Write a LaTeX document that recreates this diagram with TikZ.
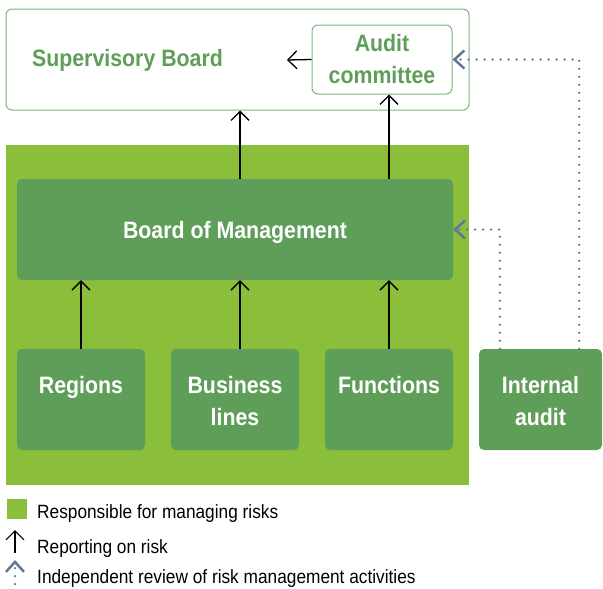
\documentclass[tikz,border=0pt]{standalone}
\usepackage{fontspec}
\setmainfont{Liberation Sans}[FakeStretch=0.9]
\usepackage{tikz}
\usetikzlibrary{arrows.meta}
\usetikzlibrary{positioning}
\definecolor{riskgreen}{HTML}{8BBE3B}
\definecolor{unitgreen}{HTML}{5F9E59}
\definecolor{framegreen}{HTML}{7DB47A}
\definecolor{reviewblue}{HTML}{5F7895}

\begin{document}
\begin{tikzpicture}[x=1pt,y=-1pt,
		bigfont/.style={font=\fontsize{23.7}{32}\selectfont\bfseries},
		keyfont/.style={font=\fontsize{19.2}{24}\selectfont},
		frame/.style={draw=framegreen, line width=1pt, rounded corners=6pt, inner sep=0pt},
		unit/.style={fill=unitgreen, rounded corners=5pt, inner sep=0pt, minimum width=128pt, minimum height=101pt},
		unittext/.style={bigfont, text=white, align=center, inner sep=0pt},
		keytext/.style={keyfont, anchor=west, inner sep=0pt, text depth=0pt},
		report/.style={-{Straight Barb[length=9pt,width=18pt]}, line width=1.3pt},
		review/.style={reviewblue, line width=2.5pt, line cap=round, dash pattern=on 0pt off 8pt, -{Straight Barb[length=10pt,width=18pt]}}]
		\useasboundingbox (0,0) rectangle (603,589);

		\fill[riskgreen] (6,145) rectangle (469,485);

		\node[frame, minimum width=463pt, minimum height=101pt] (supboard) at (237.5,59.5) {};
		\node[bigfont, text=unitgreen, inner sep=0pt, text depth=0pt] (suptext) at (127.5,58) {Supervisory Board};
		\node[frame, minimum width=140pt, minimum height=69pt, bigfont, text=unitgreen, align=center] (auditc) at (382,59.5) {Audit\\committee};
		\coordinate (supin) at (287,60);

		\node[unit, minimum width=436pt, bigfont, text=white, text depth=0pt] (bom) at (235,229.5) {Board of Management};

		\node[unit] (regions) at (81,399.5) {};
		\node[unit] (busl) at (235,399.5) {};
		\node[unit] (functions) at (389,399.5) {};
		\node[unit, minimum width=123pt] (intaudit) at (540.5,399.5) {};
		\node[unittext, below=27.5pt of regions.north] (regionstxt) {Regions};
		\node[unittext, below=27.5pt of busl.north] (busltxt) {Business\\lines};
		\node[unittext, below=27.5pt of functions.north] (functionstxt) {Functions};
		\node[unittext, below=27.5pt of intaudit.north] (intaudittxt) {Internal\\audit};

		\draw[report] (regions.north) -- (regions.north |- bom.south);
		\draw[report] ([xshift=5pt]busl.north) -- ([xshift=5pt]busl.north |- bom.south);
		\draw[report] (functions.north) -- (functions.north |- bom.south);
		\draw[report] ([xshift=5pt]bom.north) -- ([xshift=5pt]bom.north |- supboard.south);
		\draw[report] (functions.north |- bom.north) -- (functions.north |- auditc.south);
		\draw[report] (auditc.west) -- (supin);

		\draw[review] ([xshift=21pt]intaudit.north west) |- (bom.east);
		\draw[review] ([xshift=-23pt]intaudit.north east) |- (auditc.east);

		\node[fill=riskgreen, minimum size=20pt, inner sep=0pt] (keyrisk) at (16.5,508.5) {};
		\node[keytext] (keyrisktxt) at (37,512) {Responsible for managing risks};
		\coordinate (keyrepfoot) at (15,553);
		\coordinate (keyreptip) at (15,530);
		\draw[report, line width=1.1pt] (keyrepfoot) -- (keyreptip);
		\node[keytext] (keyreptxt) at (37,546.5) {Reporting on risk};
		\coordinate (keyrevfoot) at (15,592);
		\coordinate (keyrevtip) at (15,560);
		\draw[review] (keyrevfoot) -- (keyrevtip);
		\node[keytext] (keyrevtxt) at (37,577) {Independent review of risk management activities};
	\end{tikzpicture}
\end{document}
